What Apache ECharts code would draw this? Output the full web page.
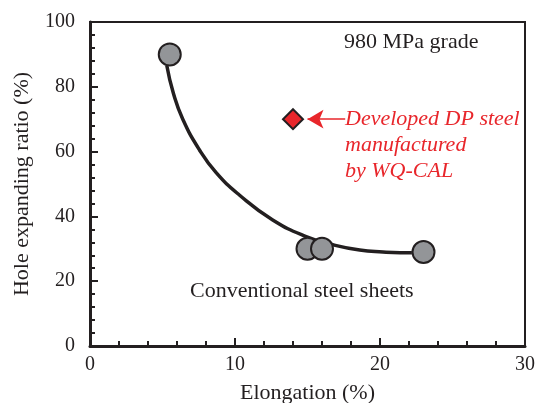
<!DOCTYPE html>
<html><head><meta charset="utf-8">
<script src="https://cdn.jsdelivr.net/npm/echarts@6/dist/echarts.min.js"></script>
<style>html,body{margin:0;padding:0;background:#fff}#c{width:537px;height:403px}</style>
</head><body><div id="c"></div>
<script>
// Conventional steel sheets (gray circles)
const convX = [5.5, 15.0, 16.0, 23.0];
const convY = [90, 30, 30, 29];
// Developed DP steel (red diamond)
const devX = [14.0];
const devY = [70];
// Trend curve
const curveX = [5.3, 5.75, 6.4, 7.55, 8.7, 10.3, 12.6, 15.0, 16.8, 18.6, 20.2, 21.4, 22.2];
const curveY = [86.5, 78, 70, 60.5, 53.5, 46.6, 38.9, 33.6, 31.2, 29.6, 29.0, 28.8, 28.8];
// Arrow pointing to the diamond (from, to)
const arrowX = [17.6, 15.0];
const arrowY = [70, 70];
const xTicks = [0, 10, 20, 30];
const yTicks = [0, 20, 40, 60, 80, 100];

const serif = '"Liberation Serif", "DejaVu Serif", serif';
const chart = echarts.init(document.getElementById('c'), null, {renderer: 'canvas'});
const zip = (a, b) => a.map((v, i) => [v, b[i]]);

chart.setOption({
  animation: false,
  grid: {left: 90, right: 12, top: 22, bottom: 57, containLabel: false, outerBoundsMode: 'none',
         show: true, borderColor: '#231f20', borderWidth: 2, backgroundColor: 'transparent'},
  xAxis: {
    type: 'value', min: xTicks[0], max: xTicks[xTicks.length - 1], interval: 10,
    name: 'Elongation (%)', nameLocation: 'middle', nameGap: 36,
    nameTextStyle: {fontFamily: serif, fontSize: 22, color: '#231f20'},
    axisLine: {show: true, lineStyle: {color: '#231f20', width: 3}},
    axisTick: {show: true, inside: true, length: 8, lineStyle: {color: '#231f20', width: 2}},
    minorTick: {show: true, splitNumber: 5, length: 5, lineStyle: {color: '#231f20', width: 2}},
    splitLine: {show: false},
    axisLabel: {fontFamily: serif, fontSize: 20, color: '#231f20', margin: 9}
  },
  yAxis: {
    type: 'value', min: yTicks[0], max: yTicks[yTicks.length - 1], interval: 20,
    name: 'Hole expanding ratio (%)', nameLocation: 'middle', nameGap: 57,
    nameTextStyle: {fontFamily: serif, fontSize: 22, color: '#231f20'},
    axisLine: {show: true, lineStyle: {color: '#231f20', width: 3}},
    axisTick: {show: true, inside: true, length: 8, lineStyle: {color: '#231f20', width: 2}},
    minorTick: {show: true, splitNumber: 5, length: 5, lineStyle: {color: '#231f20', width: 2}},
    splitLine: {show: false},
    axisLabel: {fontFamily: serif, fontSize: 20, color: '#231f20', margin: 15}
  },
  series: [
    {
      type: 'line', data: zip(curveX, curveY), smooth: true, showSymbol: false, symbol: 'none',
      lineStyle: {color: '#231f20', width: 3.5}, z: 2
    },
    {
      type: 'scatter', data: zip(convX, convY), symbol: 'circle', symbolSize: 22,
      itemStyle: {color: '#939598', borderColor: '#231f20', borderWidth: 2, opacity: 1}, z: 3
    },
    {
      type: 'scatter', data: zip(devX, devY), symbol: 'diamond', symbolSize: [20, 20],
      itemStyle: {color: '#e8262b', borderColor: '#231f20', borderWidth: 2, opacity: 1}, z: 3,
      markLine: {
        silent: true, animation: false,
        symbol: ['none', 'arrow'], symbolSize: [14, 16],
        label: {show: false},
        lineStyle: {color: '#e8262b', width: 1.5, type: 'solid'},
        data: [[{coord: [arrowX[0], arrowY[0]]}, {coord: [arrowX[1], arrowY[1]]}]]
      }
    }
  ],
  graphic: [
    {type: 'text', left: 344, top: 31, style: {text: '980 MPa grade', font: '22px ' + serif, fill: '#231f20'}},
    {type: 'text', left: 345, top: 106, style: {text: 'Developed DP steel\nmanufactured\nby WQ-CAL', font: 'italic 22px ' + serif, fill: '#e8262b', lineHeight: 26}},
    {type: 'text', left: 190, top: 280, style: {text: 'Conventional steel sheets', font: '22px ' + serif, fill: '#231f20'}}
  ]
});
</script></body></html>
